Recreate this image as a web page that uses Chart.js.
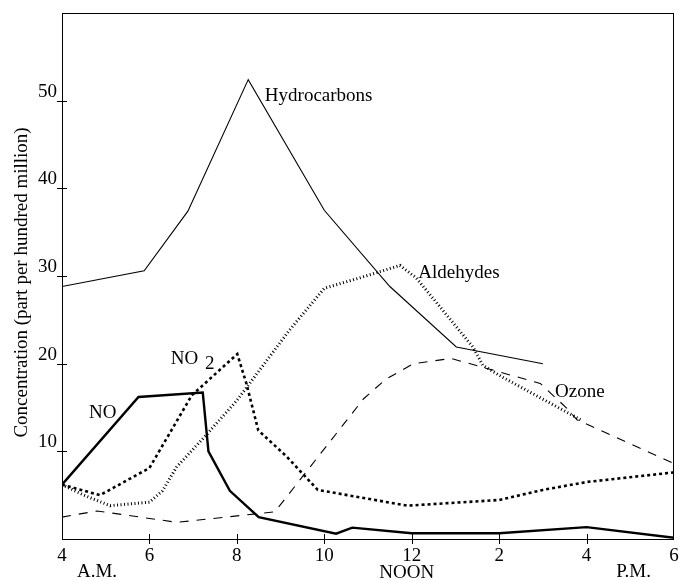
<!DOCTYPE html>
<html><head><meta charset="utf-8">
<script src="https://cdn.jsdelivr.net/npm/chart.js@4"></script>
<style>html,body{margin:0;padding:0;background:#fff}#wrap{width:679px;height:580px}</style>
</head><body><div id="wrap"><canvas id="c"></canvas></div>
<script>
// ---- data ----
const xTicks = [4, 6, 8, 10, 12, 14, 16, 18];
const xTickLabels = ['4', '6', '8', '10', '12', '2', '4', '6'];
const yTicks = [10, 20, 30, 40, 50];

const hcHours  = [4, 5.88, 6.88, 8.26, 10, 11.5, 13.02, 15];
const hcValues = [28.8, 30.6, 37.4, 52.4, 37.5, 28.8, 21.9, 20.0];

const aldHours  = [4, 4.5, 5.1, 6, 6.3, 6.62, 7.27, 8, 9.2, 10, 10.82, 11.73, 12.1, 13.4, 13.63, 14.1, 15.9];
const aldValues = [6.2, 5.0, 3.8, 4.2, 5.5, 8.2, 11.7, 15.8, 23.8, 28.6, 29.8, 31.2, 29.8, 21.9, 19.8, 18.4, 13.5];

const no2Hours  = [4, 4.87, 6, 6.97, 8.01, 8.22, 8.49, 9.14, 9.85, 11.9, 14, 15, 16, 18];
const no2Values = [6.2, 5.0, 8.1, 16.4, 21.1, 17.7, 12.4, 9.4, 5.6, 3.8, 4.45, 5.6, 6.5, 7.6];

const noHours  = [4, 5.75, 7.22, 7.35, 7.84, 8.5, 10.27, 10.64, 12, 14, 16, 18];
const noValues = [6.2, 16.2, 16.7, 10.0, 5.5, 2.5, 0.6, 1.3, 0.65, 0.65, 1.35, 0.15];

const ozHours  = [4, 4.8, 6.63, 8.87, 10.9, 11.4, 12.04, 12.9, 14.94, 15.55, 15.78, 18];
const ozValues = [2.5, 3.2, 1.9, 3.1, 16.0, 18.2, 20.0, 20.6, 17.75, 14.9, 13.6, 8.6];

const seriesNames = ['Hydrocarbons', 'Aldehydes', 'NO', 'NO', 'Ozone'];

// ---- helpers ----
const pts = (h, v) => h.map((x, i) => ({x, y: v[i]}));
const FONT = '19px "Liberation Serif", "Times New Roman", serif';

const labelSpots = [
  {text: 'Hydrocarbons', x: 8.64, y: 50.0},
  {text: 'Aldehydes', x: 12.15, y: 29.8},
  {text: 'Ozone', x: 15.28, y: 16.2},
  {text: 'NO', x: 6.49, y: 19.96},
  {text: '2', x: 7.27, y: 19.35},
  {text: 'NO', x: 4.62, y: 13.76}
];

const decor = {
  id: 'decor',
  afterDraw(chart) {
    const {ctx, chartArea: a, scales: {x, y}} = chart;
    ctx.save();
    ctx.strokeStyle = '#000';
    ctx.lineWidth = 1;
    ctx.strokeRect(a.left + 0.5, a.top + 0.5, a.right - a.left - 1, a.bottom - a.top);
    ctx.beginPath();
    xTicks.slice(1, -1).forEach(v => {
      const p = Math.round(x.getPixelForValue(v)) + 0.5;
      ctx.moveTo(p, a.bottom - 5); ctx.lineTo(p, a.bottom + 5);
    });
    yTicks.forEach(v => {
      const p = Math.round(y.getPixelForValue(v)) + 0.5;
      ctx.moveTo(a.left - 5, p); ctx.lineTo(a.left + 5, p);
    });
    ctx.stroke();
    ctx.fillStyle = '#000';
    ctx.font = FONT;
    ctx.textBaseline = 'alphabetic';
    ctx.textAlign = 'left';
    labelSpots.forEach(s => ctx.fillText(s.text, x.getPixelForValue(s.x), y.getPixelForValue(s.y)));
    // time-of-day labels
    ctx.textAlign = 'center';
    ctx.fillText('A.M.', x.getPixelForValue(4) + 35, 577);
    ctx.fillText('NOON', x.getPixelForValue(12) - 5, 578);
    ctx.fillText('P.M.', x.getPixelForValue(16) + 47, 577);
    // y title
    ctx.translate(27, 282.5);
    ctx.rotate(-Math.PI / 2);
    ctx.fillText('Concentration (part per hundred million)', 0, 0);
    ctx.restore();
  }
};

const common = {pointRadius: 0, tension: 0, fill: false, borderColor: '#000'};

new Chart(document.getElementById('c'), {
  type: 'line',
  data: {
    datasets: [
      {...common, label: seriesNames[0], data: pts(hcHours, hcValues), borderWidth: 1.1},
      {...common, label: seriesNames[1], data: pts(aldHours, aldValues), borderWidth: 3, borderDash: [1, 2.5]},
      {...common, label: seriesNames[3] + '2', data: pts(no2Hours, no2Values), borderWidth: 2.6, borderDash: [3, 3]},
      {...common, label: seriesNames[2], data: pts(noHours, noValues), borderWidth: 2.4},
      {...common, label: seriesNames[4], data: pts(ozHours, ozValues), borderWidth: 1.1, borderDash: [9, 8]}
    ]
  },
  options: {
    responsive: true,
    maintainAspectRatio: false,
    animation: false,
    layout: {padding: {top: 13, right: 5, left: 0, bottom: 0}},
    plugins: {legend: {display: false}, tooltip: {enabled: false}},
    scales: {
      x: {
        type: 'linear', min: 4, max: 18,
        afterBuildTicks: s => { s.ticks = xTicks.map(v => ({value: v})); },
        afterFit: s => { s.height = 41; s.paddingLeft = 0; s.paddingRight = 0; },
        grid: {display: false, drawTicks: false},
        border: {display: false},
        ticks: {
          autoSkip: false, maxRotation: 0, padding: 6, color: '#000',
          font: {family: '"Liberation Serif", "Times New Roman", serif', size: 19},
          callback: v => xTickLabels[xTicks.indexOf(v)]
        }
      },
      y: {
        type: 'linear', min: 0, max: 60,
        afterBuildTicks: s => { s.ticks = yTicks.map(v => ({value: v})); },
        afterFit: s => { s.width = 62; s.paddingTop = 0; s.paddingBottom = 0; },
        grid: {display: false, drawTicks: false},
        border: {display: false},
        ticks: {
          padding: 5, labelOffset: -9, color: '#000',
          font: {family: '"Liberation Serif", "Times New Roman", serif', size: 19},
          callback: v => String(v)
        }
      }
    }
  },
  plugins: [decor]
});
</script>
</body></html>
